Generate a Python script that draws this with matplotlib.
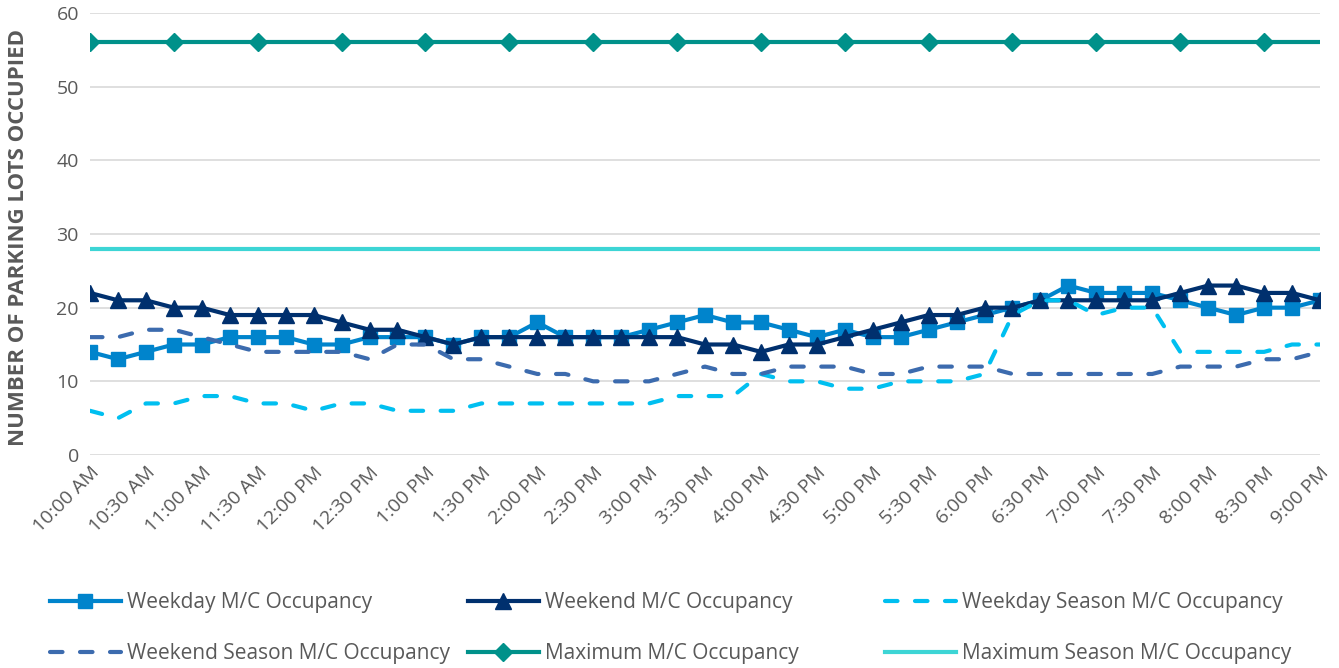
import matplotlib
matplotlib.use('Agg')
import matplotlib.pyplot as plt
import numpy as np

# 15-minute slots from 10:00 AM to 9:00 PM
tick_labels = ["10:00 AM", "10:30 AM", "11:00 AM", "11:30 AM", "12:00 PM", "12:30 PM",
               "1:00 PM", "1:30 PM", "2:00 PM", "2:30 PM", "3:00 PM", "3:30 PM",
               "4:00 PM", "4:30 PM", "5:00 PM", "5:30 PM", "6:00 PM", "6:30 PM",
               "7:00 PM", "7:30 PM", "8:00 PM", "8:30 PM", "9:00 PM"]

weekday = [14, 13, 14, 15, 15, 16, 16, 16, 15, 15, 16, 16, 16, 15, 16,
           16, 18, 16, 16, 16, 17, 18, 19, 18, 18, 17, 16, 17, 16, 16,
           17, 18, 19, 20, 21, 23, 22, 22, 22, 21, 20, 19, 20, 20, 21]
weekend = [22, 21, 21, 20, 20, 19, 19, 19, 19, 18, 17, 17, 16, 15, 16,
           16, 16, 16, 16, 16, 16, 16, 15, 15, 14, 15, 15, 16, 17, 18,
           19, 19, 20, 20, 21, 21, 21, 21, 21, 22, 23, 23, 22, 22, 21]
weekday_season = [6, 5, 7, 7, 8, 8, 7, 7, 6, 7, 7, 6, 6, 6, 7,
                  7, 7, 7, 7, 7, 7, 8, 8, 8, 11, 10, 10, 9, 9, 10,
                  10, 10, 11, 19, 21, 21, 19, 20, 20, 14, 14, 14, 14, 15, 15]
weekend_season = [16, 16, 17, 17, 16, 15, 14, 14, 14, 14, 13, 15, 15, 13, 13,
                  12, 11, 11, 10, 10, 10, 11, 12, 11, 11, 12, 12, 12, 11, 11,
                  12, 12, 12, 11, 11, 11, 11, 11, 11, 12, 12, 12, 13, 13, 14]
maximum = [56] * 45
maximum_season = [28] * 45

GRAY = "#595959"
plt.rcParams['font.family'] = ['Open Sans', 'DejaVu Sans']

fig = plt.figure(figsize=(13.39, 6.68), dpi=100)
ax = fig.add_axes([90 / 1339, 1 - 455 / 668, 1230 / 1339, 442 / 668])

x = np.arange(len(weekday))
lw = 3.0
dash = (0, (3.0, 4.2))

l1, = ax.plot(x, weekday, color="#0084CC", lw=lw, marker="s", ms=10,
              label="Weekday M/C Occupancy")
l2, = ax.plot(x, weekend, color="#00306E", lw=lw, marker="^", ms=11,
              label="Weekend M/C Occupancy")
l3, = ax.plot(x, weekday_season, color="#00BFF0", lw=lw, ls=dash,
              dash_capstyle="round", label="Weekday Season M/C Occupancy")
l4, = ax.plot(x, weekend_season, color="#3C6BAE", lw=lw, ls=dash,
              dash_capstyle="round", label="Weekend Season M/C Occupancy")
l5, = ax.plot(x, maximum, color="#00918A", lw=lw, marker="D", ms=9,
              markevery=3, label="Maximum M/C Occupancy")
l6, = ax.plot(x, maximum_season, color="#3DD5D5", lw=lw,
              label="Maximum Season M/C Occupancy")

ax.set_xlim(0, len(weekday) - 1)
ax.set_ylim(0, 60)
ax.set_yticks(range(0, 61, 10))
ax.set_xticks(x[::2])
ax.set_xticklabels(tick_labels, rotation=45, ha="right", rotation_mode="anchor")
ax.grid(axis="y", color="#D9D9D9", lw=1.2)
ax.set_axisbelow(True)
for s in ax.spines.values():
    s.set_visible(False)
ax.tick_params(length=0, labelsize=14, colors=GRAY, pad=8)
ax.tick_params(axis="x", pad=6)
ax.set_ylabel("NUMBER OF PARKING LOTS OCCUPIED", fontsize=16, fontweight="bold",
              color=GRAY, va="center")
ax.yaxis.set_label_coords(-0.0585, 0.492)

# legend laid out like the original: three columns, two rows
cols = [([l1, l4], 50), ([l2, l5], 468), ([l3, l6], 885)]
for handles, xpos in cols:
    leg = fig.legend(handles=handles, loc="upper left",
                     bbox_to_anchor=(xpos / 1339, 1 - 592 / 668),
                     frameon=False, fontsize=15, handlelength=3.4,
                     handletextpad=0.3, labelspacing=1.45, borderaxespad=0,
                     borderpad=0)
    for t in leg.get_texts():
        t.set_color(GRAY)

fig.savefig("out.png", dpi=100)
